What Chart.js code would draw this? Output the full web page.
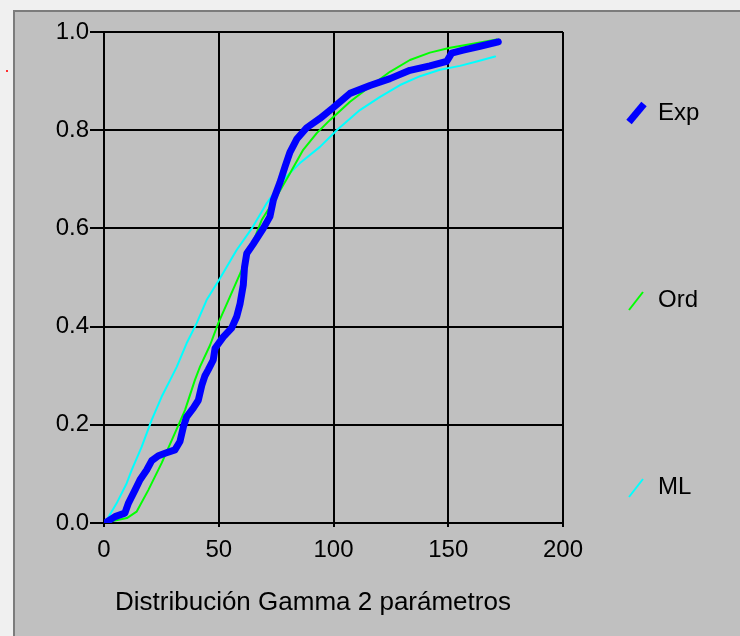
<!DOCTYPE html>
<html>
<head>
<meta charset="utf-8">
<script src="https://cdn.jsdelivr.net/npm/chart.js@4"></script>
<style>
    html, body { margin: 0; padding: 0; }
    body { width: 740px; height: 636px; background: #f0f0f0; position: relative; overflow: hidden; }
    #panel { position: absolute; left: 13px; top: 10px; width: 727px; height: 626px; background: #c0c0c0;
             border-left: 2px solid #7c7c7c; border-top: 2px solid #7c7c7c; }
    #dot { position: absolute; left: 6px; top: 70px; width: 2px; height: 2px; background: #ff3030; }
    #graphGamma { position: absolute; left: 0; top: 0; }
</style>
</head>
<body>
<div id="panel"></div>
<div id="dot"></div>
<canvas id="graphGamma" width="740" height="636"></canvas>
<script>
// empirical distribution (Exp)
const expX = [0.4, 4.8, 9.1, 10.6, 13.5, 15.7, 18.6, 20.8, 23.7, 26.6, 30.9, 33.1, 34.6, 36, 38.9, 41.1, 42.6, 44,
    45.4, 47.6, 48.4, 52, 55.6, 57.8, 59.3, 60.7, 61.2, 62.2, 65, 69.4, 72.3, 73.8, 76.7, 78.9, 81, 84, 88.3, 94.1,
    99.9, 107.2, 115.9, 124.6, 133.3, 142, 149.3, 151.5, 156.5, 163.8, 171.8];
const expY = [0, 0.013, 0.02, 0.04, 0.067, 0.088, 0.108, 0.127, 0.137, 0.142, 0.149, 0.166, 0.196, 0.216, 0.234, 0.25, 0.28, 0.3,
    0.312, 0.332, 0.356, 0.379, 0.397, 0.42, 0.447, 0.485, 0.52, 0.549, 0.568, 0.6, 0.624, 0.658, 0.694, 0.726, 0.755, 0.782, 0.805, 0.824,
    0.846, 0.875, 0.891, 0.905, 0.922, 0.931, 0.94, 0.957, 0.963, 0.971, 0.98];

// gamma fitted by ordinary moments (Ord)
const ordX = [0, 2.6, 10, 14.2, 19.3, 25.1, 30.9, 35.3, 39.6, 41.8, 46.2, 49.8, 54.9, 59.3, 63.6, 68.7, 75.2, 81, 86.8,
    92.7, 98.5, 107.2, 115.9, 124.6, 133.3, 142, 150.8, 159.5, 171.1];
const ordY = [0, 0.003, 0.01, 0.023, 0.067, 0.122, 0.183, 0.23, 0.291, 0.318, 0.362, 0.407, 0.461, 0.508, 0.556, 0.617, 0.665, 0.712, 0.76,
    0.794, 0.821, 0.858, 0.889, 0.919, 0.943, 0.958, 0.968, 0.975, 0.985];

// gamma fitted by max likelihood (ML)
const mlX = [0.4, 5.5, 9.9, 12.1, 16.4, 20.8, 25.1, 28.8, 31.7, 36, 40.4, 44.7, 50.5, 57.8, 64.4, 70.9, 78.1, 85.4,
    94.1, 101.4, 111.5, 120.3, 129, 137.7, 146.4, 155.1, 162.4, 170.4];
const mlY = [0, 0.04, 0.081, 0.108, 0.155, 0.21, 0.257, 0.291, 0.318, 0.366, 0.407, 0.454, 0.498, 0.556, 0.6, 0.651, 0.699, 0.733,
    0.766, 0.8, 0.841, 0.868, 0.892, 0.91, 0.923, 0.931, 0.94, 0.95];

const seriesLabels = ["Exp", "Ord", "ML"];
const xTicks = [0, 50, 100, 150, 200];
const yTicks = [0, 0.2, 0.4, 0.6, 0.8, 1.0];
const xTitle = "Distribución Gamma 2 parámetros";

const FONT = "'Liberation Sans', Arial, sans-serif";

function toPoints(xs, ys) {
    return xs.map((x, i) => ({x: x, y: ys[i]}));
}

// legend drawn as slanted strokes, spread down the right side
const sideLegend = {
    id: 'sideLegend',
    afterDraw(chart) {
        const ctx = chart.ctx;
        const area = chart.chartArea;
        ctx.save();
        chart.data.datasets.forEach((ds, i) => {
            const cy = area.top + 81 + i * 187;
            const w = ds.borderWidth;
            ctx.strokeStyle = ds.borderColor;
            ctx.lineWidth = w;
            ctx.lineCap = 'butt';
            ctx.beginPath();
            if (w > 3) {
                ctx.moveTo(629, cy + 9);
                ctx.lineTo(644, cy - 9);
            } else {
                ctx.moveTo(629, cy + 10);
                ctx.lineTo(643, cy - 8);
            }
            ctx.stroke();
            ctx.fillStyle = '#000';
            ctx.font = "24px " + FONT;
            ctx.textAlign = 'left';
            ctx.textBaseline = 'middle';
            ctx.fillText(ds.label, 658, cy);
        });
        // caption under the x axis
        ctx.font = "26px " + FONT;
        ctx.textAlign = 'left';
        ctx.textBaseline = 'middle';
        ctx.fillText(xTitle, area.left + 11, area.bottom + 80);
        ctx.restore();
    }
};

const $grafica = document.querySelector("#graphGamma");

const curveExp = {
    label: seriesLabels[0],
    data: toPoints(expX, expY),
    borderColor: '#0000ff',
    borderWidth: 7,
    showLine: true,
    fill: false,
};
const curveOrd = {
    label: seriesLabels[1],
    data: toPoints(ordX, ordY),
    borderColor: '#00ff00',
    borderWidth: 2,
    showLine: true,
    fill: false,
};
const curveML = {
    label: seriesLabels[2],
    data: toPoints(mlX, mlY),
    borderColor: '#00ffff',
    borderWidth: 2,
    showLine: true,
    fill: false,
};

const gammaChart = new Chart($grafica, {
    type: 'scatter',
    data: {
        datasets: [curveExp, curveOrd, curveML]
    },
    options: {
        responsive: false,
        animation: false,
        events: [],
        layout: {
            padding: {left: 0, right: 177, top: 32, bottom: 0}
        },
        plugins: {
            legend: {display: false},
            tooltip: {enabled: false}
        },
        elements: {
            point: {radius: 0},
            line: {tension: 0, borderJoinStyle: 'round', borderCapStyle: 'round'}
        },
        scales: {
            x: {
                type: 'linear',
                min: xTicks[0],
                max: xTicks[xTicks.length - 1],
                afterFit: function (scale) { scale.height = 113; },
                afterBuildTicks: function (scale) { scale.ticks = xTicks.map(v => ({value: v})); },
                ticks: {
                    color: '#000',
                    padding: 9,
                    font: {family: FONT, size: 24}
                },
                grid: {
                    color: "black",
                    lineWidth: 2,
                    tickLength: 4
                },
                border: {color: "black", width: 2}
            },
            y: {
                type: 'linear',
                min: yTicks[0],
                max: yTicks[yTicks.length - 1],
                afterFit: function (scale) { scale.width = 104; },
                afterBuildTicks: function (scale) { scale.ticks = yTicks.map(v => ({value: v})); },
                ticks: {
                    color: '#000',
                    padding: 1,
                    font: {family: FONT, size: 24},
                    callback: function (v) { return v.toFixed(1); }
                },
                grid: {
                    color: "black",
                    lineWidth: 2,
                    tickLength: 14
                },
                border: {color: "black", width: 2}
            }
        }
    },
    plugins: [sideLegend]
});
</script>
</body>
</html>
